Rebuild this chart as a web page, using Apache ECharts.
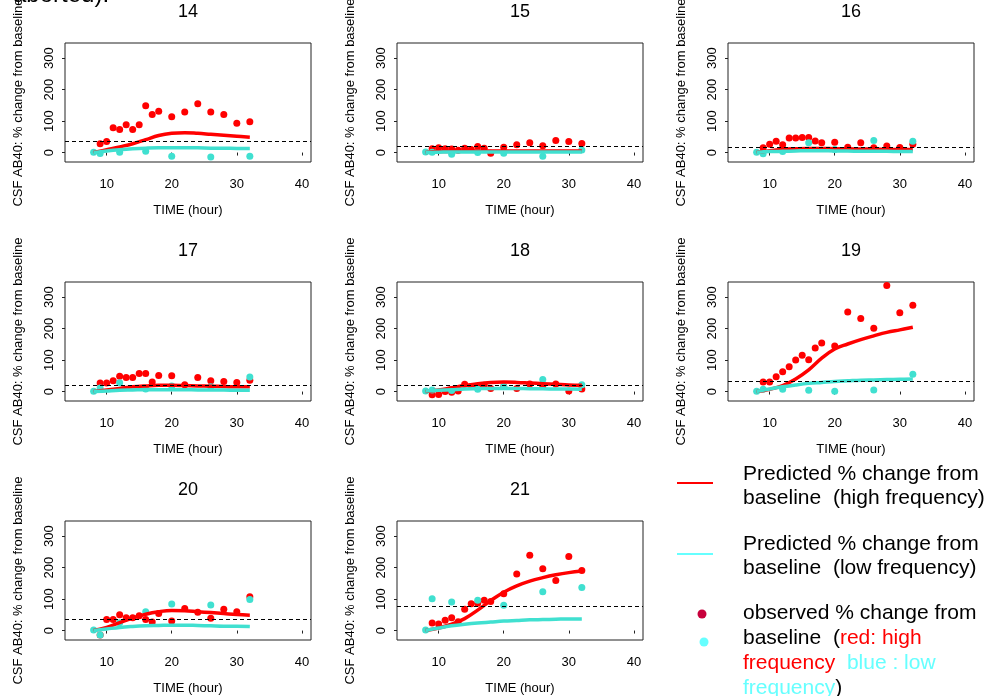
<!DOCTYPE html>
<html lang="en">
<head>
<meta charset="UTF-8">
<title>CSF AB40: % change from baseline</title>
<style>
	html, body { margin: 0; padding: 0; background: #fff; }
	#chart { width: 988px; height: 696px; }
</style>
</head>
<body>
<div id="chart"></div>
<script src="https://cdn.jsdelivr.net/npm/echarts@6/dist/echarts.min.js"></script>
<script>
// panel numbers
var panelIds = [14, 15, 16, 17, 18, 19, 20, 21];

// sampling times (hour)
var obsHighTimes = [9, 10, 11, 12, 13, 14, 15, 16, 17, 18, 20, 22, 24, 26, 28, 30, 32];
var obsLowTimes = [8, 9, 12, 16, 20, 26, 32];
var predTimes = [8, 10, 12, 14, 16, 18, 20, 22, 24, 26, 28, 30, 32];

// tick labels
var xTicks = [10, 20, 30, 40];
var yTicks = [0, 100, 200, 300];

// observed % change, high frequency (red points)
var obsHigh = [
	[28, 35, 79, 73, 88, 73, 88, 149, 121, 131, 114, 129, 155, 129, 121, 93, 98],
	[12, 15, 12, 11, 7, 14, 10, 19, 14, -2, 17, 25, 31, 22, 38, 35, 29],
	[15, 26, 36, 25, 46, 46, 48, 48, 37, 31, 33, 17, 31, 15, 21, 16, 26],
	[27, 27, 34, 49, 45, 45, 57, 57, 30, 51, 50, 22, 45, 34, 32, 29, 36],
	[-10, -9, 0, -2, 2, 23, 16, 16, 20, 10, 16, 10, 24, 18, 24, 2, 8],
	[30, 30, 47, 63, 79, 100, 115, 101, 138, 154, 145, 253, 232, 201, 337, 250, 274],
	[-14, 35, 35, 50, 41, 41, 47, 35, 27, 54, 30, 70, 58, 39, 68, 60, 107],
	[24, 21, 33, 41, 28, 68, 85, 87, 96, 92, 117, 180, 239, 196, 159, 235, 191]
];

// observed % change, low frequency (turquoise points)
var obsLow = [
	[1, -3, 1, 4, -12, -14, -12],
	[2, 1, -5, 0, -2, -12, 8],
	[1, -4, 3, 31, 10, 38, 36],
	[1, 11, 28, 8, 18, 15, 46],
	[2, 5, 3, 7, 16, 38, 22],
	[1, 7, 7, 4, 1, 5, 55],
	[2, -14, 25, 60, 84, 81, 99],
	[2, 101, 91, 96, 80, 123, 137]
];

// predicted % change, high frequency (red line)
var predHigh = [
	[0, 9, 18, 28, 41, 54, 61, 63, 61, 58, 55, 52, 49],
	[0, 3, 4, 5, 5, 5, 5, 5, 5, 5, 5, 5, 5],
	[0, 6, 10, 12, 13, 13, 12, 12, 11, 11, 10, 10, 10],
	[0, 5, 10, 15, 18, 20, 20, 19, 18, 17, 16, 15, 15],
	[0, 5, 12, 19, 25, 29, 30, 29, 27, 25, 23, 21, 20],
	[0, 7, 19, 40, 69, 106, 135, 151, 165, 177, 188, 196, 204],
	[0, 10, 25, 40, 52, 60, 64, 63, 60, 57, 54, 51, 49],
	[0, 8, 20, 38, 65, 95, 122, 142, 157, 168, 177, 184, 189]
];

// predicted % change, low frequency (turquoise line)
var predLow = [
	[0, 5, 9, 12, 14, 15, 15, 15, 15, 14, 14, 13, 13],
	[0, 1, 2, 2, 2, 2, 2, 2, 2, 2, 2, 2, 2],
	[0, 3, 4, 5, 6, 6, 5, 5, 4, 4, 4, 3, 3],
	[0, 2, 4, 5, 6, 6, 6, 6, 5, 5, 5, 4, 4],
	[2, 4, 6, 8, 9, 10, 10, 10, 9, 9, 8, 8, 7],
	[0, 8, 15, 21, 26, 29, 32, 34, 36, 37, 38, 39, 40],
	[0, 5, 10, 13, 15, 16, 17, 17, 16, 15, 14, 14, 13],
	[0, 8, 15, 20, 24, 27, 30, 32, 34, 35, 36, 37, 37]
];

// dashed reference level per panel
var thresholds = [37, 20, 18, 19, 21, 32, 35, 77];

var RED = '#ff0000';
var TURQ = '#40e0d0';
var FONT = '"Liberation Sans", Arial, Helvetica, sans-serif';

var colLeft = [65, 397, 728];
var rowTop = [43, 282, 521];

function pairs(xs, ys) {
	var out = [];
	for (var k = 0; k < xs.length; k++) out.push([xs[k], ys[k]]);
	return out;
}

var grids = [], xAxes = [], yAxes = [], titles = [], series = [];

for (var i = 0; i < panelIds.length; i++) {
	var col = i % 3, row = Math.floor(i / 3);
	grids.push({
		left: colLeft[col], top: rowTop[row], width: 246, height: 119,
		outerBoundsMode: 'none', containLabel: false,
		show: true, borderColor: '#222', borderWidth: 1, backgroundColor: 'transparent'
	});
	titles.push({
		text: String(panelIds[i]),
		left: colLeft[col] + 123, top: rowTop[row] - 40,
		textAlign: 'center', padding: 0,
		textStyle: { fontFamily: FONT, fontSize: 18, fontWeight: 'normal', color: '#000' }
	});
	xAxes.push({
		gridIndex: i, type: 'value', min: 3.6, max: 41.4,
		name: 'TIME (hour)', nameLocation: 'middle', nameGap: 42,
		nameTextStyle: { fontFamily: FONT, fontSize: 13, color: '#000' },
		axisLine: { show: false },
		axisTick: { show: true, length: 3, customValues: xTicks, lineStyle: { color: '#222' } },
		axisLabel: { customValues: xTicks, margin: 16, fontFamily: FONT, fontSize: 13, color: '#000' },
		splitLine: { show: false }
	});
	yAxes.push({
		gridIndex: i, type: 'value', min: -30, max: 348,
		name: 'CSF AB40: % change from baseline', nameLocation: 'middle', nameGap: 40, nameRotate: 90,
		nameTextStyle: { fontFamily: FONT, fontSize: 13, color: '#000' },
		axisLine: { show: false },
		axisTick: { show: true, length: 3, customValues: yTicks, lineStyle: { color: '#222' } },
		axisLabel: { customValues: yTicks, rotate: 90, margin: 9, fontFamily: FONT, fontSize: 13, color: '#000' },
		splitLine: { show: false }
	});
	series.push({
		type: 'line', xAxisIndex: i, yAxisIndex: i, smooth: 0.4, symbol: 'none',
		data: pairs(predTimes, predHigh[i]),
		lineStyle: { color: RED, width: 3.5 },
		markLine: {
			silent: true, symbol: 'none', label: { show: false },
			lineStyle: { color: '#000', type: [4, 3], width: 1 },
			data: [{ yAxis: thresholds[i] }]
		}
	});
	series.push({
		type: 'line', xAxisIndex: i, yAxisIndex: i, smooth: 0.4, symbol: 'none',
		data: pairs(predTimes, predLow[i]),
		lineStyle: { color: TURQ, width: 3.5 }
	});
	series.push({
		type: 'scatter', xAxisIndex: i, yAxisIndex: i, symbolSize: 7,
		data: pairs(obsHighTimes, obsHigh[i]),
		itemStyle: { color: RED, opacity: 1 }
	});
	series.push({
		type: 'scatter', xAxisIndex: i, yAxisIndex: i, symbolSize: 7,
		data: pairs(obsLowTimes, obsLow[i]),
		itemStyle: { color: TURQ, opacity: 1 }
	});
}

// legend drawn in the empty ninth cell
function txt(y, s, rich) {
	return {
		type: 'text', left: 743, top: y - 9,
		style: { text: s, font: '21px ' + FONT, fill: '#000', rich: rich || {} }
	};
}
var rich = {
	r: { fontFamily: FONT, fontSize: 21, fill: RED },
	c: { fontFamily: FONT, fontSize: 21, fill: '#66ffff' }
};

var graphics = [
	{ type: 'text', left: 13, top: -17, style: { text: 'aborted).', font: '24px ' + FONT, fill: '#000' } },
	{ type: 'line', shape: { x1: 677, y1: 483, x2: 713, y2: 483 }, style: { stroke: RED, lineWidth: 2 } },
	{ type: 'line', shape: { x1: 677, y1: 554, x2: 713, y2: 554 }, style: { stroke: '#66ffff', lineWidth: 2 } },
	{ type: 'circle', shape: { cx: 702, cy: 614, r: 4.5 }, style: { fill: '#c8003c' } },
	{ type: 'circle', shape: { cx: 704, cy: 642, r: 4.5 }, style: { fill: '#66ffff' } },
	txt(473, 'Predicted % change from'),
	txt(497, 'baseline  (high frequency)'),
	txt(543, 'Predicted % change from'),
	txt(567, 'baseline  (low frequency)'),
	txt(612, 'observed % change from'),
	txt(637, 'baseline  ({r|red: high}', rich),
	txt(662, '{r|frequency}  {c|blue : low}', rich),
	txt(687, '{c|frequency})', rich)
];

var myChart = echarts.init(document.getElementById('chart'));
myChart.setOption({
	animation: false,
	backgroundColor: '#fff',
	title: titles,
	grid: grids,
	xAxis: xAxes,
	yAxis: yAxes,
	series: series,
	graphic: graphics
});
</script>
</body>
</html>
